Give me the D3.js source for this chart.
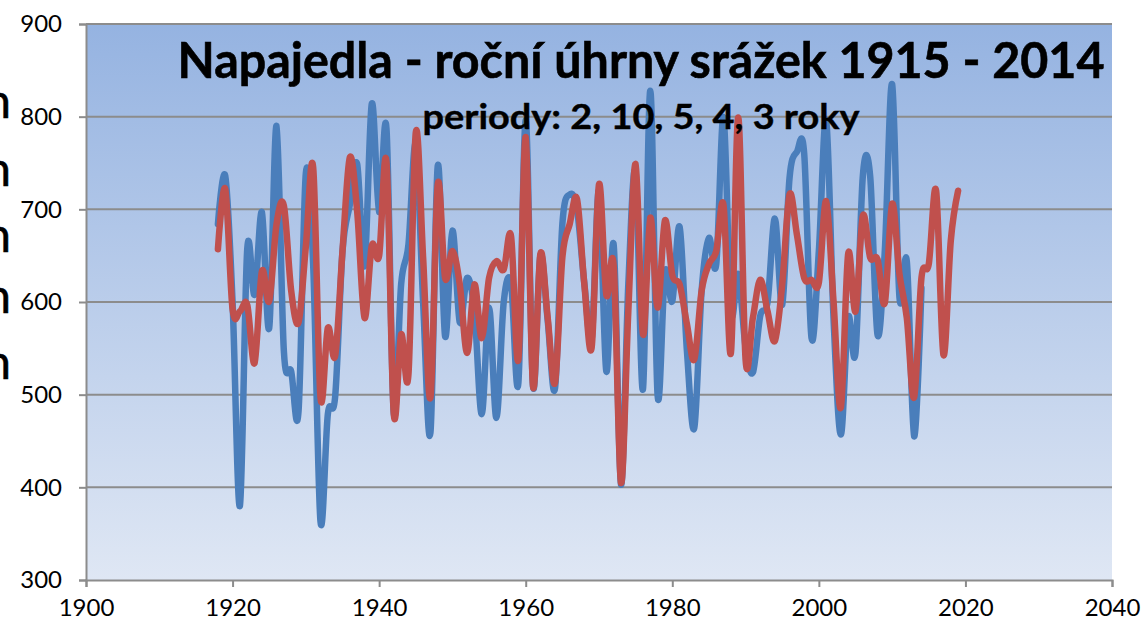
<!DOCTYPE html>
<html>
<head>
<meta charset="utf-8">
<script src="https://cdn.jsdelivr.net/npm/d3@7"></script>
<style>
  html, body { margin: 0; padding: 0; background: #ffffff; }
  svg { display: block; }
  text { font-family: Lato, "Open Sans", "DejaVu Sans", sans-serif; }
</style>
</head>
<body>
<svg id="chart" width="1145" height="630"></svg>
<script>
// Annual precipitation totals, Napajedla (mm)
const measuredYears = d3.range(1918, 2015);
const measured = [
  684, 736, 600, 380, 657, 608, 697, 572, 790, 547,
  525, 482, 739, 640, 363, 479, 498, 655, 705, 749,
  639, 814, 697, 787, 480, 619, 662, 770, 600, 459,
  747, 563, 677, 578, 626, 590, 479, 594, 475, 600,
  620, 513, 796, 509, 650, 580, 507, 684, 716, 700,
  620, 560, 720, 525, 662, 403, 619, 740, 506, 828,
  499, 632, 601, 681, 547, 464, 612, 669, 641, 799,
  590, 630, 551, 524, 585, 600, 690, 597, 734, 762,
  760, 561, 655, 796, 583, 457, 583, 545, 736, 736,
  565, 655, 835, 605, 644, 455, 615
];

// Model composed of periodic components (2, 10, 5, 4, 3 years)
const modelYears = d3.range(1918, 2020);
const model = [
  657, 722, 592, 590, 597, 534, 633, 601, 684, 704,
  612, 578, 660, 745, 497, 572, 542, 655, 756, 698,
  583, 661, 650, 751, 479, 565, 522, 783, 648, 497,
  727, 626, 655, 619, 545, 619, 561, 626, 644, 635,
  671, 538, 778, 509, 652, 583, 513, 648, 684, 711,
  619, 551, 727, 608, 639, 405, 590, 749, 565, 691,
  594, 688, 629, 619, 576, 538, 612, 641, 655, 704,
  545, 799, 538, 583, 624, 590, 558, 619, 716, 673,
  626, 624, 621, 709, 601, 486, 652, 590, 693, 648,
  646, 599, 706, 630, 583, 497, 626, 641, 720, 543,
  666, 720
];

const xTicks = [1900, 1920, 1940, 1960, 1980, 2000, 2020, 2040];
const yTicks = [300, 400, 500, 600, 700, 800, 900];

const titleText = "Napajedla - roční úhrny srážek 1915 - 2014";
const subtitleText = "periody: 2, 10, 5, 4, 3 roky";
const sideGlyphs = ["n", "n", "n", "n", "n"];

const svg = d3.select("#chart");
const plot = { left: 86, right: 1112, top: 24, bottom: 580 };

const x = d3.scaleLinear().domain([1900, 2040]).range([plot.left, plot.right]);
const y = d3.scaleLinear().domain([300, 900]).range([plot.bottom, plot.top]);

// Plot area gradient
const defs = svg.append("defs");
const grad = defs.append("linearGradient")
  .attr("id", "plotBg").attr("x1", 0).attr("y1", 0).attr("x2", 0).attr("y2", 1);
grad.append("stop").attr("offset", "0%").attr("stop-color", "#95b3e1");
grad.append("stop").attr("offset", "100%").attr("stop-color", "#dfe7f4");

svg.append("rect")
  .attr("x", plot.left).attr("y", plot.top)
  .attr("width", plot.right - plot.left).attr("height", plot.bottom - plot.top)
  .attr("fill", "url(#plotBg)");

// Horizontal gridlines
svg.append("g")
  .selectAll("line")
  .data(yTicks.filter(v => v > 300))
  .join("line")
  .attr("x1", plot.left).attr("x2", plot.right)
  .attr("y1", d => y(d)).attr("y2", d => y(d))
  .attr("stroke", "#8c8c8c").attr("stroke-width", 2);

// Axes
const yAxis = svg.append("g")
  .attr("transform", `translate(${plot.left},0)`)
  .call(d3.axisLeft(y).tickValues(yTicks).tickSize(7).tickPadding(17).tickFormat(d3.format("d")));
const xAxis = svg.append("g")
  .attr("transform", `translate(0,${plot.bottom})`)
  .call(d3.axisBottom(x).tickValues(xTicks).tickSize(7).tickPadding(12).tickFormat(d3.format("d")));

[yAxis, xAxis].forEach(a => {
  a.select(".domain").attr("stroke", "#8c8c8c").attr("stroke-width", 2);
  a.selectAll(".tick line").attr("stroke", "#8c8c8c").attr("stroke-width", 2);
  a.selectAll(".tick text")
    .attr("fill", "#000")
    .style("font-size", "24px")
    .style("font-family", "Lato, 'Open Sans', sans-serif");
});

// Series lines
const line = d3.line()
  .x(d => x(d[0]))
  .y(d => y(d[1]))
  .curve(d3.curveCatmullRom.alpha(0));

svg.append("path")
  .datum(d3.zip(measuredYears, measured))
  .attr("d", line)
  .attr("fill", "none")
  .attr("stroke", "#4a7ebb")
  .attr("stroke-width", 6.5)
  .attr("stroke-linejoin", "round")
  .attr("stroke-linecap", "round");

svg.append("path")
  .datum(d3.zip(modelYears, model))
  .attr("d", line)
  .attr("fill", "none")
  .attr("stroke", "#c0504d")
  .attr("stroke-width", 6.5)
  .attr("stroke-linejoin", "round")
  .attr("stroke-linecap", "round");

// Titles
svg.append("text")
  .attr("x", 641).attr("y", 78)
  .attr("text-anchor", "middle")
  .attr("textLength", 927).attr("lengthAdjust", "spacingAndGlyphs")
  .style("font-size", "49px").style("font-weight", "bold")
  .attr("fill", "#000").attr("stroke", "#000").attr("stroke-width", 0.6)
  .text(titleText);

svg.append("text")
  .attr("x", 641).attr("y", 129)
  .attr("text-anchor", "middle")
  .attr("textLength", 437).attr("lengthAdjust", "spacingAndGlyphs")
  .style("font-size", "35px").style("font-weight", "bold")
  .attr("fill", "#000").attr("stroke", "#000").attr("stroke-width", 0.4)
  .text(subtitleText);

// Clipped text fragments at the left edge
const glyphBaselines = [118, 186, 252, 313, 379];
svg.append("g")
  .selectAll("text")
  .data(sideGlyphs)
  .join("text")
  .attr("x", 11)
  .attr("y", (d, i) => glyphBaselines[i])
  .attr("text-anchor", "end")
  .style("font-size", "48px")
  .attr("fill", "#000").attr("stroke", "#000").attr("stroke-width", 0.5)
  .text(d => d);
</script>
</body>
</html>
